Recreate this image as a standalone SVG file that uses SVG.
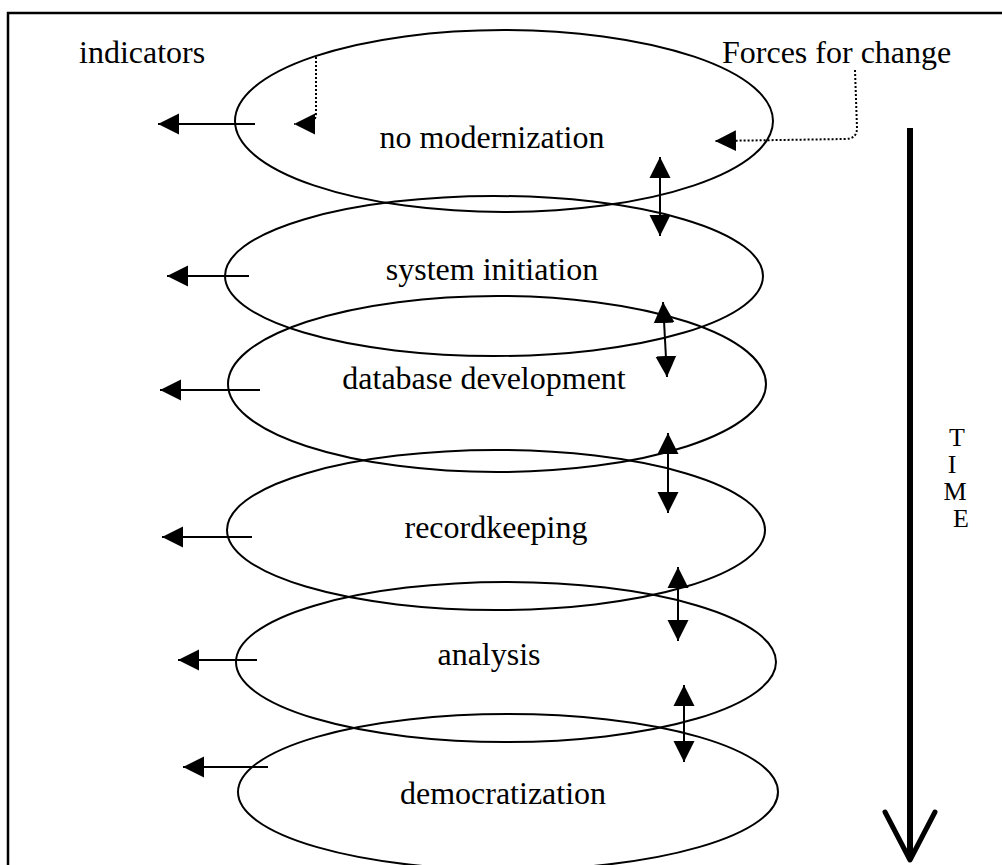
<svg xmlns="http://www.w3.org/2000/svg" width="1002" height="865" viewBox="0 0 1002 865">
<defs>
<marker id="ah" viewBox="0 0 10 10" refX="10" refY="5" markerWidth="21" markerHeight="22" markerUnits="userSpaceOnUse" orient="auto-start-reverse"><path d="M0,0 L10,5 L0,10 z" fill="#000"/></marker>
</defs>
<style>
.ell{fill:none;stroke:#000;stroke-width:2}
.lbl{font-family:"Liberation Serif","Times New Roman",serif;font-size:32px;fill:#000}
.t{font-family:"Liberation Serif","Times New Roman",serif;font-size:26px;fill:#000;text-anchor:middle}
.c{text-anchor:middle}
.arr{stroke:#000;stroke-width:2;fill:none}
.dot{stroke:#000;stroke-width:2;stroke-dasharray:2 2;fill:none}
</style>
<rect width="1002" height="865" fill="#fff"/>
<path d="M8,865 V13 H1002" fill="none" stroke="#000" stroke-width="2.5"/>
<text class="lbl" x="79" y="63">indicators</text>
<text class="lbl" x="722" y="63">Forces for change</text>
<g id="n1"><ellipse class="ell" cx="504" cy="121" rx="269" ry="91"/><text class="lbl c" x="492" y="148">no modernization</text></g>
<g id="n2"><ellipse class="ell" cx="494" cy="276" rx="269" ry="80"/><text class="lbl c" x="492" y="280">system initiation</text></g>
<g id="n3"><ellipse class="ell" cx="497" cy="384" rx="269" ry="88"/><text class="lbl c" x="484" y="389">database development</text></g>
<g id="n4"><ellipse class="ell" cx="496" cy="530" rx="269" ry="80"/><text class="lbl c" x="496" y="538">recordkeeping</text></g>
<g id="n5"><ellipse class="ell" cx="506" cy="662" rx="270" ry="80"/><text class="lbl c" x="489" y="665">analysis</text></g>
<g id="n6"><ellipse class="ell" cx="508" cy="792" rx="270" ry="78"/><text class="lbl c" x="503" y="804">democratization</text></g>
<g id="connectors">
<line class="arr" x1="255" y1="124" x2="158" y2="124" marker-end="url(#ah)"/>
<line class="arr" x1="249" y1="276" x2="167" y2="276" marker-end="url(#ah)"/>
<line class="arr" x1="260" y1="390" x2="160" y2="390" marker-end="url(#ah)"/>
<line class="arr" x1="252" y1="537" x2="162" y2="537" marker-end="url(#ah)"/>
<line class="arr" x1="257" y1="660" x2="178" y2="660" marker-end="url(#ah)"/>
<line class="arr" x1="268" y1="767" x2="183" y2="767" marker-end="url(#ah)"/>
<path class="dot" d="M316,57 V113 Q316,124 305,124 H294" marker-end="url(#ah)"/>
<path class="dot" d="M855,70 L857,128 Q857,139 845,139 L715,141" marker-end="url(#ah)"/>
<line class="arr" x1="660" y1="157" x2="660" y2="236" marker-start="url(#ah)" marker-end="url(#ah)"/>
<line class="arr" x1="663" y1="302" x2="667" y2="377" marker-start="url(#ah)" marker-end="url(#ah)"/>
<line class="arr" x1="668" y1="433" x2="668" y2="513" marker-start="url(#ah)" marker-end="url(#ah)"/>
<line class="arr" x1="678" y1="567" x2="678" y2="641" marker-start="url(#ah)" marker-end="url(#ah)"/>
<line class="arr" x1="684" y1="685" x2="684" y2="762" marker-start="url(#ah)" marker-end="url(#ah)"/>
<line x1="910" y1="128" x2="910" y2="860" stroke="#000" stroke-width="6"/>
<path d="M885,812 L910,860 L935,812" fill="none" stroke="#000" stroke-width="5" stroke-linecap="round" stroke-linejoin="round"/>
</g>
<text class="t" x="957" y="446">T</text>
<text class="t" x="952" y="473">I</text>
<text class="t" x="955" y="500">M</text>
<text class="t" x="961" y="527">E</text>
</svg>
